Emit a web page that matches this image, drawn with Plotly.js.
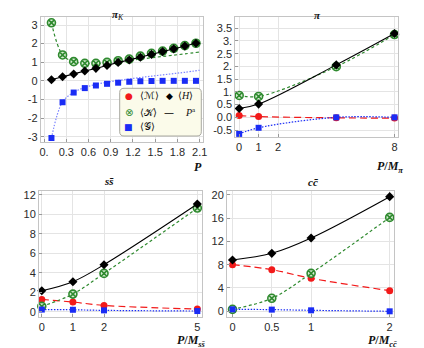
<!DOCTYPE html>
<html>
<head>
<meta charset="utf-8">
<script src="https://cdn.plot.ly/plotly-3.0.1.min.js"></script>
<style>
  html, body { margin: 0; padding: 0; background: #fff; }
  #chart { width: 424px; height: 348px; }
</style>
</head>
<body>
<div id="chart"></div>
<script>
// pi_K panel
const pkP = [0.1, 0.25, 0.4, 0.55, 0.7, 0.85, 1.0, 1.15, 1.3, 1.45, 1.6, 1.75, 1.9, 2.05];
const pkH = [0.06, 0.22, 0.37, 0.53, 0.67, 0.83, 0.99, 1.12, 1.27, 1.42, 1.57, 1.72, 1.87, 2.02];
const pkK = [3.12, 1.39, 1.03, 0.94, 0.94, 0.99, 1.08, 1.17, 1.33, 1.48, 1.6, 1.75, 1.89, 2.02];
const pkG = [-3.07, -1.15, -0.63, -0.39, -0.25, -0.16, -0.1, -0.05, -0.02, -0.01, 0, 0, 0, 0];
// the two curves drawn under the pi_K points
const pkCurveP = [0.1, 0.25, 0.4, 0.55, 0.7, 0.85, 1.0, 1.15, 1.3, 1.45, 1.6, 1.75, 1.9, 2.1];
const pkCurveK = [3.12, 1.39, 1.03, 0.94, 0.93, 0.96, 1.02, 1.09, 1.17, 1.24, 1.31, 1.38, 1.45, 1.55];
const pkCurveG = [-3.07, -1.13, -0.62, -0.36, -0.19, -0.08, 0.02, 0.1, 0.18, 0.25, 0.32, 0.39, 0.46, 0.57];

// pi panel
const piP = [0, 1, 5, 8];
const piM = [0.07, 0.03, -0.02, -0.03];
const piK = [0.86, 0.82, 1.99, 3.25];
const piG = [-0.65, -0.41, 0.0, 0.0];
const piH = [0.35, 0.52, 2.06, 3.29];

// s sbar panel
const ssP = [0, 1, 2, 5];
const ssM = [1.26, 0.99, 0.65, 0.27];
const ssK = [0.55, 1.81, 3.93, 10.63];
const ssG = [0.22, 0.2, 0.14, 0.07];
const ssH = [2.15, 3.08, 4.82, 11.04];

// c cbar panel
const ccP = [0, 0.5, 1, 2];
const ccM = [8.0, 7.14, 5.66, 3.54];
const ccK = [0.34, 2.23, 6.51, 16.1];
const ccG = [0.34, 0.29, 0.17, 0.0];
const ccH = [8.8, 9.94, 12.57, 19.66];

const RED = '#f21a1a', GREEN = '#2f8a2f', BLUE = '#1a2cf5', BLACK = '#000';

function px(x) { return x / 424; }
function py(y) { return 1 - y / 348; }

const mk = {
  M: {symbol: 'circle', size: 7, color: RED},
  K: {symbol: 'circle-x', size: 8, color: '#d6ecd2', line: {color: GREEN, width: 1.6}},
  G: {symbol: 'square', size: 6, color: BLUE},
  H: {symbol: 'diamond', size: 7, color: BLACK}
};

function lineStyle(kind) {
  if (kind === 'M') return {color: RED, width: 1.2, dash: '7px,4px', shape: 'spline'};
  if (kind === 'K') return {color: GREEN, width: 1.2, dash: '3px,2.5px', shape: 'spline'};
  if (kind === 'G') return {color: BLUE, width: 1.2, dash: '1.5px,1.5px', shape: 'spline'};
  return {color: BLACK, width: 1.1, shape: 'spline'};
}
function series(x, y, n, kind, withLine) {
  const t = {x: x, y: y, xaxis: 'x' + n, yaxis: 'y' + n, type: 'scatter',
    mode: withLine ? 'lines+markers' : 'markers', marker: mk[kind], cliponaxis: false,
    showlegend: false, hoverinfo: 'skip'};
  if (withLine) t.line = lineStyle(kind);
  return t;
}

const data = [
  // pi_K: separate curves
  {x: pkCurveP, y: pkCurveK, xaxis: 'x', yaxis: 'y', mode: 'lines', showlegend: false, hoverinfo: 'skip',
    line: {color: GREEN, width: 1.2, dash: '3px,2.5px', shape: 'spline'}},
  {x: pkCurveP, y: pkCurveG, xaxis: 'x', yaxis: 'y', mode: 'lines', showlegend: false, hoverinfo: 'skip',
    line: {color: '#7c84ff', width: 1.2, dash: '1.5px,1.5px', shape: 'spline'}},
  series(pkP, pkK, '', 'K', false),
  series(pkP, pkG, '', 'G', false),
  series(pkP, pkH, '', 'H', true),

  series(piP, piM, '2', 'M', true),
  series(piP, piK, '2', 'K', true),
  series(piP, piG, '2', 'G', true),
  series(piP, piH, '2', 'H', true),

  series(ssP, ssM, '3', 'M', true),
  series(ssP, ssK, '3', 'K', true),
  series(ssP, ssG, '3', 'G', true),
  series(ssP, ssH, '3', 'H', true),

  series(ccP, ccM, '4', 'M', true),
  series(ccP, ccK, '4', 'K', true),
  series(ccP, ccG, '4', 'G', true),
  series(ccP, ccH, '4', 'H', true)
];

function ax(anchor, domain, range, vals, text) {
  return {anchor: anchor, domain: domain, range: range, tickvals: vals, ticktext: text, tickmode: 'array',
    showgrid: true, gridcolor: '#e4e4e4', gridwidth: 1, zeroline: false,
    showline: true, mirror: true, linecolor: '#c4c4c4', linewidth: 1,
    ticks: 'inside', ticklen: 3, tickcolor: '#999', ticklabelstandoff: 0,
    tickfont: {family: 'Liberation Sans, Arial, sans-serif', size: 11, color: '#2a2a2a'}};
}

const serif = 'Liberation Serif, Times New Roman, serif';
function label(x, y, text, size) {
  return {xref: 'paper', yref: 'paper', x: px(x), y: py(y), text: text, showarrow: false,
    xanchor: 'center', yanchor: 'middle', font: {family: serif, size: size || 12, color: '#111'}};
}
function leg(x, y, text, color, size, anchor, family) {
  return {xref: 'paper', yref: 'paper', x: px(x), y: py(y), text: text, showarrow: false,
    xanchor: anchor || 'center', yanchor: 'middle',
    font: {family: family || serif, size: size || 10, color: color || '#111'}};
}

const layout = {
  width: 424, height: 348,
  margin: {l: 0, r: 0, t: 0, b: 0},
  paper_bgcolor: '#fff', plot_bgcolor: '#fff',
  showlegend: false,
  xaxis: ax('y', [px(40.7), px(203)], [-0.045, 2.145], [0, 0.3, 0.6, 0.9, 1.2, 1.5, 1.8, 2.1],
    ['0.', '0.3', '0.6', '0.9', '1.2', '1.5', '1.8', '2.1']),
  yaxis: ax('x', [py(141.7), py(17)], [-3.27, 3.43], [-3, -2, -1, 0, 1, 2, 3],
    ['-3', '-2', '-1', '0', '1', '2', '3']),
  xaxis2: ax('y2', [px(235.3), px(398)], [-0.2, 8.18], [0, 1, 2, 8], ['0', '1', '2', '8']),
  yaxis2: ax('x2', [py(136.7), py(17)], [-0.76, 3.94], [-0.5, 0, 0.5, 1, 1.5, 2, 2.5, 3, 3.5],
    ['-0.5', '0.0', '0.5', '1.', '1.5', '2.', '2.5', '3.', '3.5']),
  xaxis3: ax('y3', [px(39), px(202)], [-0.09, 5.15], [0, 1, 2, 5], ['0', '1', '2', '5']),
  yaxis3: ax('x3', [py(316.7), py(191)], [-0.51, 12.38], [0, 2, 4, 6, 8, 10, 12],
    ['0', '2', '4', '6', '8', '10', '12']),
  xaxis4: ax('y4', [px(227), px(394)], [-0.07, 2.055], [0, 0.5, 1, 2], ['0', '0.5', '1', '2']),
  yaxis4: ax('x4', [py(316.5), py(191)], [-0.89, 20.63], [0, 4, 8, 12, 16, 20],
    ['0', '4', '8', '12', '16', '20']),
  shapes: [
    // legend box of the first panel
    {type: 'path', xref: 'paper', yref: 'paper',
      path: 'M ' + px(124) + ',' + py(88.3) + ' L ' + px(197) + ',' + py(88.3) +
        ' Q ' + px(201.3) + ',' + py(88.3) + ' ' + px(201.3) + ',' + py(92.5) +
        ' L ' + px(201.3) + ',' + py(131.8) +
        ' Q ' + px(201.3) + ',' + py(136) + ' ' + px(197) + ',' + py(136) +
        ' L ' + px(124) + ',' + py(136) +
        ' Q ' + px(119.7) + ',' + py(136) + ' ' + px(119.7) + ',' + py(131.8) +
        ' L ' + px(119.7) + ',' + py(92.5) +
        ' Q ' + px(119.7) + ',' + py(88.3) + ' ' + px(124) + ',' + py(88.3) + ' Z',
      fillcolor: '#fbfbea', line: {color: '#a8a8a0', width: 1}, layer: 'above'}
  ],
  annotations: [
    label(118, 15, '<b><i>π</i></b><sub><i>K</i></sub>', 11),
    label(317, 15, '<b><i>π</i></b>', 11),
    label(109, 181, '<b><i>ss̄</i></b>', 11),
    label(313, 182, '<b><i>cc̄</i></b>', 11),
    label(198, 167, '<b><i>P</i></b>', 12),
    label(390, 167, '<b><i>P</i>/<i>M</i></b><sub><b><i>π</i></b></sub>', 12),
    label(191, 341, '<b><i>P</i>/<i>M</i></b><sub><b><i>ss̄</i></b></sub>', 12),
    label(383, 341, '<b><i>P</i>/<i>M</i></b><sub><b><i>cc̄</i></b></sub>', 12),

    leg(128.7, 95.7, '●', RED, 9, 'center', 'DejaVu Sans'),
    leg(138, 95.7, '⟨ℳ⟩', '#111', 10, 'left'),
    leg(169.7, 95.7, '◆', BLACK, 9, 'center', 'DejaVu Sans'),
    leg(176, 95.7, '⟨<i>H</i>⟩', '#111', 10, 'left'),
    leg(128.7, 112.3, '⊗', GREEN, 10, 'center', 'DejaVu Sans'),
    leg(138, 112.3, '⟨𝒦⟩', '#111', 10, 'left'),
    leg(169, 112.3, '—', BLACK, 10, 'center', 'DejaVu Sans'),
    leg(183, 112.3, '<i>P</i><sup>a</sup>', '#111', 10, 'left'),
    leg(128.7, 126.7, '■', BLUE, 9, 'center', 'DejaVu Sans'),
    leg(138, 126.7, '⟨𝒢⟩', '#111', 10, 'left')
  ]
};

Plotly.newPlot('chart', data, layout, {displayModeBar: false, staticPlot: true});
</script>
</body>
</html>
